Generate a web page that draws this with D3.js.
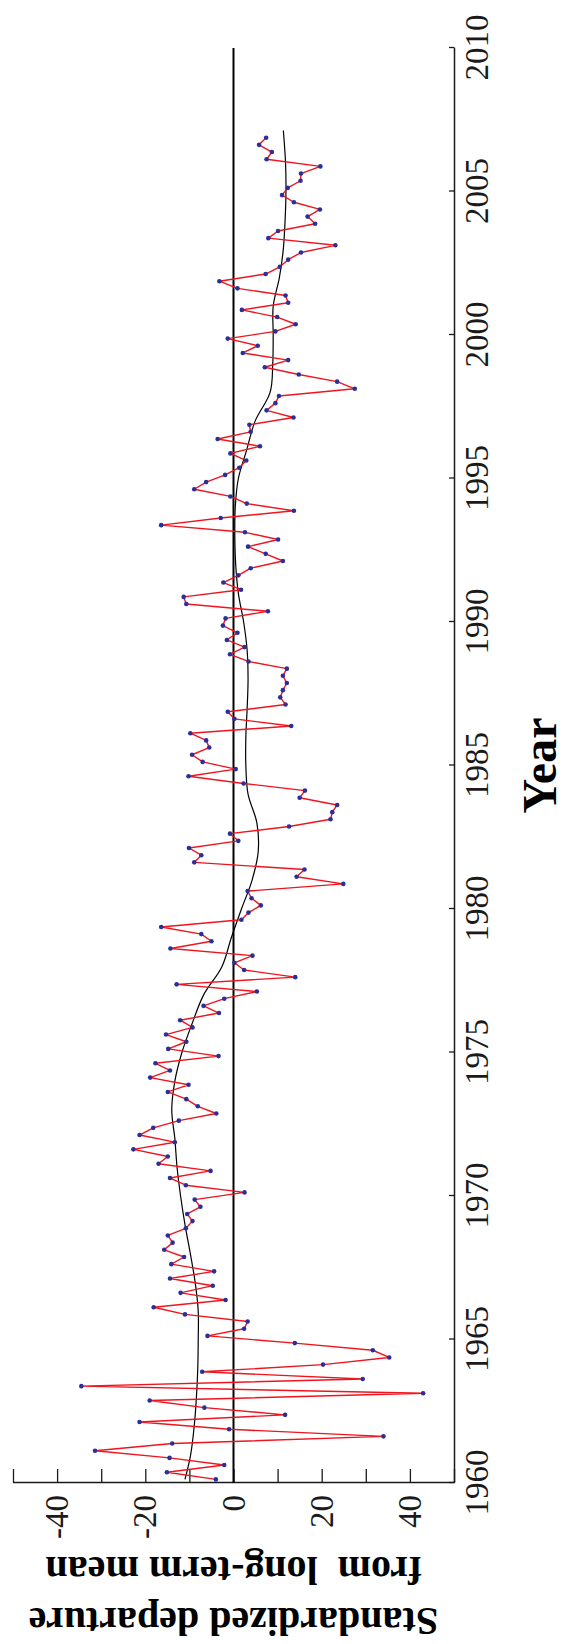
<!DOCTYPE html>
<html>
<head>
<meta charset="utf-8">
<script src="https://cdn.jsdelivr.net/npm/d3@7"></script>
<style>
  html, body { margin: 0; padding: 0; background: #fff; }
  svg { display: block; }
</style>
</head>
<body>
<script>
// Quarterly standardized departures, starting with the first quarter of 1960
const firstYear = 1960;
const departures = [
  -4.0, -15.1, -2.1, -14.5, -31.4, -13.9, 34.0, -1.0, -21.3, 11.7,
  -6.6, -19.0, 43.0, -34.5, 29.3, -7.1, 20.3, 35.3, 31.6, 13.9,
  -5.9, 2.4, 3.2, -11.0, -18.1, -1.8, -12.0, -4.7, -14.4, -4.4,
  -14.1, -11.2, -15.7, -13.8, -14.9, -10.8, -9.3, -10.5, -7.5, -8.8,
  2.5, -10.8, -14.4, -5.2, -17.0, -14.9, -22.7, -13.3, -21.3, -18.2,
  -12.4, -3.9, -8.1, -10.7, -14.9, -10.2, -18.9, -14.4, -17.7, -3.4,
  -14.8, -10.7, -15.3, -9.3, -12.1, -3.3, -6.8, -2.1, 5.3, -12.9,
  14.0, 2.4, 0.2, 4.3, -14.3, -5.0, -7.3, -16.4, 1.8, 3.4,
  6.2, 4.1, 3.2, 24.9, 14.3, 16.1, -8.9, -7.3, -10.1, 1.1,
  -0.8, 12.6, 22.0, 22.4, 23.5, 15.0, 16.2, 2.3, -10.2, 0.5,
  -7.0, -9.4, -5.5, -6.2, -9.8, 13.1, 0.2, -1.3, 11.8, 10.6,
  11.2, 12.1, 11.2, 12.1, 3.4, -0.8, 2.5, -1.5, 0.9, -2.4,
  -1.8, 7.8, -10.7, -11.3, 1.7, -2.3, 1.1, 3.9, 11.2, 7.3,
  3.3, 10.1, 2.6, -16.4, -2.9, 13.7, 3.0, -0.7, -8.9, -6.2,
  -1.9, 1.3, 2.9, -0.7, 6.0, -3.6, 3.9, 3.6, 13.6, 7.5,
  9.5, 10.3, 27.5, 23.5, 14.8, 7.1, 12.4, 2.1, 5.5, -1.3,
  9.5, 14.1, 9.9, 1.9, 12.4, 11.8, 0.9, -3.2, 7.3, 10.5,
  12.4, 15.3, 23.1, 7.9, 10.1, 18.5, 16.8, 19.6, 13.7, 11.0,
  12.3, 15.2, 15.3, 19.7, 7.5, 8.7, 5.8, 7.4
];

// Long-term smoothed trend
const trendYears = [
  1960.125, 1961, 1962, 1963, 1964, 1965, 1966, 1967, 1968, 1969,
  1970, 1971, 1972, 1973, 1974, 1975, 1976, 1977, 1978, 1979,
  1980, 1981, 1982, 1983, 1984, 1985, 1986, 1987, 1988, 1989,
  1990, 1991, 1992, 1993, 1994, 1995, 1996, 1997, 1998, 1999,
  2000, 2001, 2002, 2003, 2004, 2005, 2006, 2007.125
];
const trendValues = [
  -11.0, -9.7, -8.9, -8.4, -8.1, -8.0, -8.0, -8.7, -9.8, -11.0,
  -12.0, -12.8, -13.3, -14.0, -13.3, -11.7, -9.4, -6.8, -2.6, -0.5,
  1.8, 4.2, 5.6, 5.3, 3.3, 2.8, 2.8, 3.1, 3.3, 3.1,
  2.3, 1.1, 0.5, 0.3, 0.4, 1.1, 3.0, 4.9, 8.3, 8.9,
  9.0, 9.0, 10.4, 11.3, 11.7, 11.9, 11.8, 11.3
];

const yearTicks = [1960, 1965, 1970, 1975, 1980, 1985, 1990, 1995, 2000, 2005, 2010];
const valueTicks = [-50, -40, -30, -20, -10, 0, 10, 20, 30, 40, 50];
const valueLabels = [-40, -20, 0, 20, 40];

const W = 568, H = 1644;
const FONT = "'Liberation Serif', 'Times New Roman', serif";
const INK = "#1a1a1a";

const svg = d3.select("body").append("svg")
  .attr("width", W)
  .attr("height", H)
  .style("background", "#fff");

// The plot is laid out in a landscape frame (years across, departures down)
// and turned a quarter-turn counter-clockwise onto the page.
const g = svg.append("g").attr("transform", "translate(0,1483) rotate(-90)");

const x = d3.scaleLinear().domain([1960, 2010]).range([0, 1435]);
const y = d3.scaleLinear().domain([-50, 50]).range([13, 454]);

// Year axis
const xAxis = g.append("g")
  .attr("transform", `translate(0,${y(50)})`)
  .call(d3.axisBottom(x)
    .tickValues(yearTicks)
    .tickFormat(d3.format("d"))
    .tickSizeInner(-5)
    .tickSizeOuter(0)
    .tickPadding(11));

// Departure axis
const yAxis = g.append("g")
  .attr("transform", `translate(${x(1960)},0)`)
  .call(d3.axisLeft(y)
    .tickValues(valueTicks)
    .tickFormat(d => valueLabels.includes(d) ? String(d) : "")
    .tickSizeInner(-14)
    .tickSizeOuter(0)
    .tickPadding(12));

[xAxis, yAxis].forEach(ax => {
  ax.attr("font-family", null).attr("font-size", null);
  ax.select(".domain").attr("stroke", INK).attr("stroke-width", 1.5);
  ax.selectAll(".tick line").attr("stroke", INK).attr("stroke-width", 1.3);
  ax.selectAll(".tick text")
    .attr("fill", INK)
    .style("font-family", FONT)
    .style("font-size", "33px");
});

// Axis titles
g.append("text")
  .attr("x", (x.range()[0] + x.range()[1]) / 2)
  .attr("y", 556)
  .attr("text-anchor", "middle")
  .attr("fill", "#000")
  .style("font-family", FONT)
  .style("font-weight", "bold")
  .style("font-size", "48px")
  .text("Year");

const yMid = (y.range()[0] + y.range()[1]) / 2;
[["Standardized departure", -125], ["from  long-term mean", -74]].forEach(([txt, off]) => {
  g.append("text")
    .attr("transform", `translate(${off},${yMid}) rotate(-90)`)
    .attr("text-anchor", "middle")
    .attr("fill", "#000")
    .style("font-family", FONT)
    .style("font-weight", "bold")
    .style("font-size", "40px")
    .style("white-space", "pre")
    .text(txt);
});

// Zero reference line
g.append("line")
  .attr("x1", x(1960)).attr("x2", x(2010))
  .attr("y1", y(0)).attr("y2", y(0))
  .attr("stroke", "#000")
  .attr("stroke-width", 2);

// Smoothed trend
const trend = trendYears.map((yr, i) => [yr, trendValues[i]]);
g.append("path")
  .datum(trend)
  .attr("fill", "none")
  .attr("stroke", "#000")
  .attr("stroke-width", 1.2)
  .attr("d", d3.line()
    .x(d => x(d[0]))
    .y(d => y(d[1]))
    .curve(d3.curveCatmullRom.alpha(0.5)));

// Quarterly series
const quarterTime = i => firstYear + (i + 0.5) / 4;

g.append("path")
  .datum(departures)
  .attr("fill", "none")
  .attr("stroke", "#f0141e")
  .attr("stroke-width", 1.4)
  .attr("stroke-linejoin", "round")
  .attr("d", d3.line()
    .x((d, i) => x(quarterTime(i)))
    .y(d => y(d)));

g.append("g")
  .selectAll("circle")
  .data(departures)
  .join("circle")
  .attr("cx", (d, i) => x(quarterTime(i)))
  .attr("cy", d => y(d))
  .attr("r", 2.3)
  .attr("fill", "#2b2f96");
</script>
</body>
</html>
